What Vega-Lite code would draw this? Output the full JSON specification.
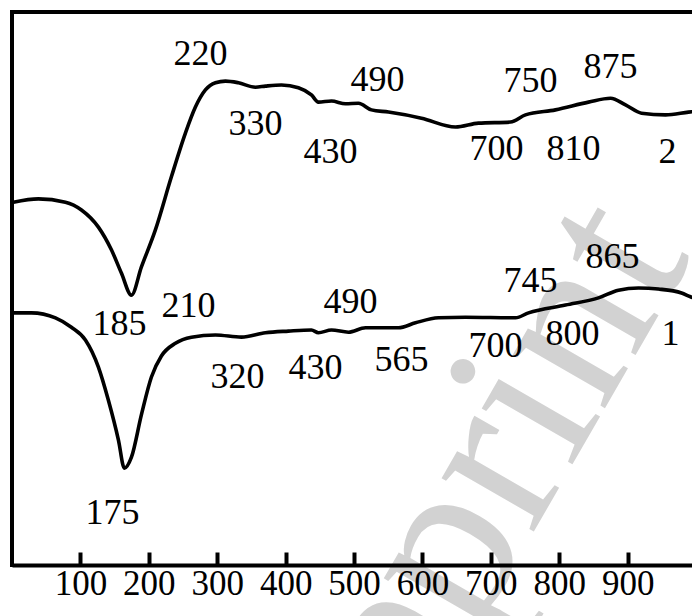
{
  "$schema": "https://vega.github.io/schema/vega-lite/v6.json",
  "width": 680,
  "height": 553,
  "autosize": {"type": "none"},
  "padding": {"left": 12, "top": 12, "right": 0, "bottom": 51},
  "background": "white",
  "config": {"view": {"stroke": null}},
  "datasets": {
    "curves": [
      {"T": 2.0, "S": 65.6, "curve": "2"},
      {"T": 38.6, "S": 66.2, "curve": "2"},
      {"T": 78.1, "S": 65.6, "curve": "2"},
      {"T": 101.5, "S": 64.2, "curve": "2"},
      {"T": 126.3, "S": 61.1, "curve": "2"},
      {"T": 145.3, "S": 57.0, "curve": "2"},
      {"T": 159.9, "S": 52.8, "curve": "2"},
      {"T": 174.6, "S": 48.8, "curve": "2"},
      {"T": 189.2, "S": 53.9, "curve": "2"},
      {"T": 209.6, "S": 60.6, "curve": "2"},
      {"T": 233.0, "S": 70.2, "curve": "2"},
      {"T": 253.5, "S": 78.1, "curve": "2"},
      {"T": 268.1, "S": 82.8, "curve": "2"},
      {"T": 282.7, "S": 85.9, "curve": "2"},
      {"T": 297.4, "S": 87.2, "curve": "2"},
      {"T": 312.0, "S": 87.5, "curve": "2"},
      {"T": 331.0, "S": 87.2, "curve": "2"},
      {"T": 355.8, "S": 86.4, "curve": "2"},
      {"T": 370.5, "S": 86.6, "curve": "2"},
      {"T": 393.9, "S": 86.8, "curve": "2"},
      {"T": 418.7, "S": 86.3, "curve": "2"},
      {"T": 437.7, "S": 85.0, "curve": "2"},
      {"T": 447.9, "S": 83.7, "curve": "2"},
      {"T": 467.0, "S": 83.9, "curve": "2"},
      {"T": 487.4, "S": 83.4, "curve": "2"},
      {"T": 506.4, "S": 83.5, "curve": "2"},
      {"T": 525.4, "S": 82.3, "curve": "2"},
      {"T": 550.3, "S": 81.9, "curve": "2"},
      {"T": 598.5, "S": 80.8, "curve": "2"},
      {"T": 648.2, "S": 79.2, "curve": "2"},
      {"T": 681.9, "S": 79.9, "curve": "2"},
      {"T": 728.7, "S": 80.1, "curve": "2"},
      {"T": 750.6, "S": 81.4, "curve": "2"},
      {"T": 794.4, "S": 82.3, "curve": "2"},
      {"T": 842.7, "S": 83.7, "curve": "2"},
      {"T": 874.9, "S": 84.4, "curve": "2"},
      {"T": 896.8, "S": 83.2, "curve": "2"},
      {"T": 920.2, "S": 81.7, "curve": "2"},
      {"T": 955.3, "S": 81.4, "curve": "2"},
      {"T": 988.9, "S": 81.9, "curve": "2"},
      {"T": 1018.1, "S": 82.3, "curve": "2"},
      {"T": 2.0, "S": 45.6, "curve": "1"},
      {"T": 28.4, "S": 45.6, "curve": "1"},
      {"T": 63.5, "S": 44.7, "curve": "1"},
      {"T": 86.8, "S": 43.0, "curve": "1"},
      {"T": 107.3, "S": 40.7, "curve": "1"},
      {"T": 126.3, "S": 35.8, "curve": "1"},
      {"T": 140.9, "S": 29.8, "curve": "1"},
      {"T": 155.6, "S": 22.6, "curve": "1"},
      {"T": 164.3, "S": 17.5, "curve": "1"},
      {"T": 174.6, "S": 19.5, "curve": "1"},
      {"T": 189.2, "S": 27.2, "curve": "1"},
      {"T": 203.8, "S": 34.0, "curve": "1"},
      {"T": 218.4, "S": 37.8, "curve": "1"},
      {"T": 238.9, "S": 40.1, "curve": "1"},
      {"T": 262.3, "S": 41.2, "curve": "1"},
      {"T": 297.4, "S": 41.6, "curve": "1"},
      {"T": 335.4, "S": 41.2, "curve": "1"},
      {"T": 370.5, "S": 42.0, "curve": "1"},
      {"T": 404.1, "S": 42.3, "curve": "1"},
      {"T": 437.7, "S": 42.5, "curve": "1"},
      {"T": 447.9, "S": 42.0, "curve": "1"},
      {"T": 467.0, "S": 42.5, "curve": "1"},
      {"T": 491.8, "S": 42.1, "curve": "1"},
      {"T": 516.7, "S": 42.9, "curve": "1"},
      {"T": 564.9, "S": 42.9, "curve": "1"},
      {"T": 589.8, "S": 43.8, "curve": "1"},
      {"T": 623.4, "S": 44.7, "curve": "1"},
      {"T": 662.9, "S": 44.8, "curve": "1"},
      {"T": 736.0, "S": 44.7, "curve": "1"},
      {"T": 755.0, "S": 45.6, "curve": "1"},
      {"T": 809.1, "S": 47.0, "curve": "1"},
      {"T": 857.3, "S": 48.3, "curve": "1"},
      {"T": 886.5, "S": 49.7, "curve": "1"},
      {"T": 915.8, "S": 50.1, "curve": "1"},
      {"T": 945.0, "S": 49.9, "curve": "1"},
      {"T": 978.7, "S": 49.2, "curve": "1"},
      {"T": 991.8, "S": 48.5, "curve": "1"},
      {"T": 1018.1, "S": 47.6, "curve": "1"}
    ],
    "peaks": [
      {"T": 275.4, "S": 92.4, "label": "220"},
      {"T": 355.8, "S": 79.7, "label": "330"},
      {"T": 465.5, "S": 74.7, "label": "430"},
      {"T": 534.2, "S": 87.7, "label": "490"},
      {"T": 757.9, "S": 87.5, "label": "750"},
      {"T": 874.9, "S": 90.1, "label": "875"},
      {"T": 708.2, "S": 75.2, "label": "700"},
      {"T": 820.7, "S": 75.2, "label": "810"},
      {"T": 958.2, "S": 74.7, "label": "2"},
      {"T": 157.2, "S": 43.6, "label": "185"},
      {"T": 257.9, "S": 46.8, "label": "210"},
      {"T": 494.7, "S": 47.6, "label": "490"},
      {"T": 329.5, "S": 34.0, "label": "320"},
      {"T": 443.6, "S": 35.6, "label": "430"},
      {"T": 569.3, "S": 37.1, "label": "565"},
      {"T": 706.7, "S": 39.6, "label": "700"},
      {"T": 757.9, "S": 51.4, "label": "745"},
      {"T": 819.3, "S": 41.8, "label": "800"},
      {"T": 877.8, "S": 55.7, "label": "865"},
      {"T": 962.6, "S": 41.8, "label": "1"},
      {"T": 146.9, "S": 9.4, "label": "175"}
    ],
    "stamp": [
      {"T": 633.0, "S": 3.6, "text": "Preprint"}
    ],
    "frame": [
      {"T": 0, "T2": 994, "S": 100, "S2": 100},
      {"T": 0, "T2": 0, "S": 0, "S2": 100}
    ]
  },
  "layer": [
    {
      "data": {"name": "stamp"},
      "mark": {
        "type": "text",
        "font": "Liberation Serif",
        "fontSize": 232,
        "angle": -60,
        "color": "#d2d2d2",
        "align": "center",
        "baseline": "middle"
      },
      "encoding": {
        "x": {
          "field": "T",
          "type": "quantitative",
          "scale": {"domain": [0, 994], "nice": false, "zero": false},
          "axis": {
            "values": [100, 200, 300, 400, 500, 600, 700, 800, 900],
            "title": null,
            "grid": false,
            "zindex": 1,
            "domain": true,
            "domainColor": "black",
            "domainWidth": 4,
            "ticks": true,
            "tickColor": "black",
            "tickWidth": 4,
            "tickSize": -13,
            "labelFont": "Liberation Serif",
            "labelFontSize": 35,
            "labelColor": "black",
            "labelPadding": 14,
            "labelFlush": false,
            "labelOverlap": false
          }
        },
        "y": {
          "field": "S",
          "type": "quantitative",
          "scale": {"domain": [0, 100], "nice": false, "zero": false},
          "axis": null
        },
        "text": {"field": "text"}
      }
    },
    {
      "data": {"name": "curves"},
      "mark": {
        "type": "line",
        "color": "black",
        "strokeWidth": 3.6,
        "interpolate": "monotone",
        "clip": true
      },
      "encoding": {
        "x": {"field": "T", "type": "quantitative"},
        "y": {"field": "S", "type": "quantitative"},
        "detail": {"field": "curve"}
      }
    },
    {
      "data": {"name": "peaks"},
      "mark": {
        "type": "text",
        "font": "Liberation Serif",
        "fontSize": 36,
        "color": "black",
        "align": "center",
        "baseline": "middle"
      },
      "encoding": {
        "x": {"field": "T", "type": "quantitative"},
        "y": {"field": "S", "type": "quantitative"},
        "text": {"field": "label"}
      }
    },
    {
      "data": {"name": "frame"},
      "mark": {"type": "rule", "color": "black", "strokeWidth": 4, "strokeCap": "square"},
      "encoding": {
        "x": {"field": "T", "type": "quantitative"},
        "x2": {"field": "T2"},
        "y": {"field": "S", "type": "quantitative"},
        "y2": {"field": "S2"}
      }
    }
  ]
}
